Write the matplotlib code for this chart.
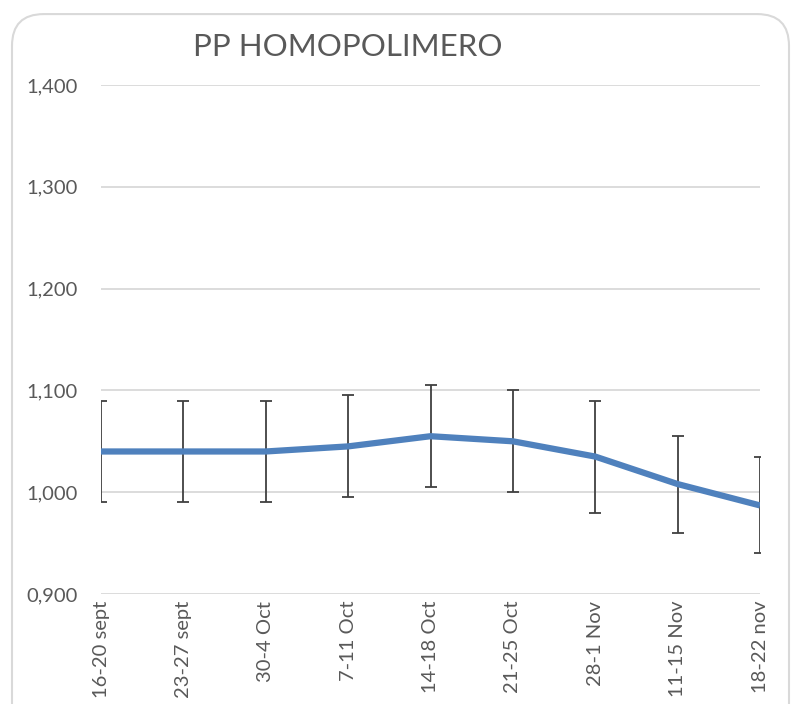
import matplotlib.pyplot as plt
from matplotlib.patches import FancyBboxPatch

# datos
semanas = ['16-20 sept', '23-27 sept', '30-4 Oct', '7-11 Oct', '14-18 Oct',
           '21-25 Oct', '28-1 Nov', '11-15 Nov', '18-22 nov']
precio = [1.040, 1.040, 1.040, 1.045, 1.055, 1.050, 1.035, 1.008, 0.987]
maximo = [1.090, 1.090, 1.090, 1.095, 1.105, 1.100, 1.090, 1.055, 1.035]
minimo = [0.990, 0.990, 0.990, 0.995, 1.005, 1.000, 0.980, 0.960, 0.940]
ticks_y = [0.9, 1.0, 1.1, 1.2, 1.3, 1.4]

plt.rcParams['font.family'] = ['Lato', 'DejaVu Sans']

fig = plt.figure(figsize=(7.94, 7.04), dpi=100)

# marco redondeado del grafico
marco = FancyBboxPatch((12 / 794, -0.05), 777 / 794, 1.03,
                       boxstyle='round,pad=0,rounding_size=0.04',
                       transform=fig.transFigure, facecolor='none',
                       edgecolor='#D9D9D9', linewidth=1.5, mutation_aspect=794 / 704)
fig.patches.append(marco)

ax = fig.add_axes([101 / 794, 110 / 704, 659 / 794, 509 / 704])
ax.set_facecolor('none')

x = list(range(len(semanas)))
err_inf = [p - m for p, m in zip(precio, minimo)]
err_sup = [m - p for p, m in zip(precio, maximo)]

ax.errorbar(x, precio, yerr=[err_inf, err_sup], fmt='none', ecolor='#404040',
            elinewidth=1.3, capsize=4, capthick=1.3, zorder=3)
ax.plot(x, precio, color='#4F81BD', linewidth=4.5, solid_capstyle='butt', zorder=4)

ax.set_xlim(0, len(semanas) - 1)
ax.set_ylim(0.9, 1.4)
ax.set_yticks(ticks_y)
ax.set_yticklabels([('%.3f' % t).replace('.', ',') for t in ticks_y],
                   fontsize=14.5, color='#595959')
ax.set_xticks(x)
ax.set_xticklabels(semanas, rotation=90, fontsize=14.5, color='#595959')
ax.tick_params(length=0)
ax.tick_params(axis='y', pad=16.5)
ax.tick_params(axis='x', pad=5)
ax.grid(axis='y', color='#D9D9D9', linewidth=1.3)
ax.set_axisbelow(True)
for s in ax.spines.values():
    s.set_visible(False)

fig.text(348 / 794, 1 - 47 / 704, 'PP HOMOPOLIMERO', fontsize=22.5, color='#595959',
         ha='center', va='center')

fig.savefig('out.png', dpi=100)
